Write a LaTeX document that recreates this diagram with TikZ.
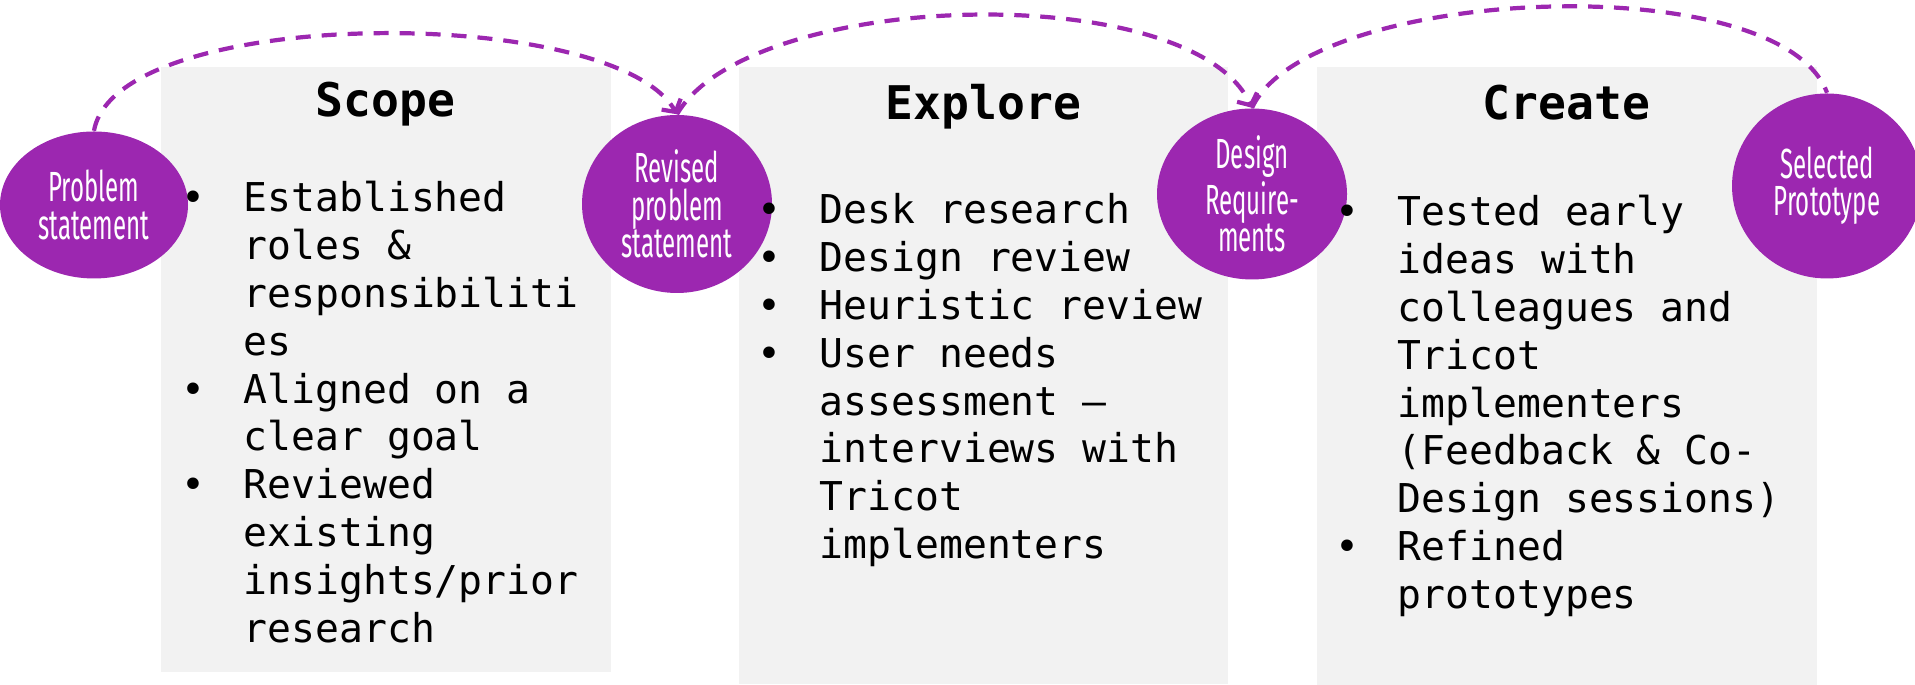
\documentclass[tikz,border=0pt]{standalone}
\usepackage{fontspec}
\setmonofont{DejaVu Sans Mono}
\newfontfamily\circfont[FakeStretch=0.57]{Fira Sans}
\usepackage{xcolor}
\usetikzlibrary{arrows.meta,shapes.geometric}
\definecolor{phasegray}{HTML}{F2F2F2}
\definecolor{flowpurple}{HTML}{9C27B0}
\newcommand{\listfont}{\ttfamily\fontsize{11.3}{13.6}\selectfont}
\newcommand{\titlefont}{\ttfamily\bfseries\fontsize{13.2}{16}\selectfont}
\newcommand{\blt}{\leavevmode\llap{•\hspace{0.38cm}}}
\newcommand{\steplist}[1]{\parbox[t]{5cm}{\raggedright #1}}
\tikzset{
	panel/.style={fill=phasegray, inner sep=0, anchor=north west},
	milestone/.style={ellipse, fill=flowpurple, text=white, inner sep=0,
			align=center, font=\circfont\fontsize{12}{10.6}\selectfont},
	phasetitle/.style={anchor=base, inner sep=0, font=\titlefont},
	itemlist/.style={anchor=base west, inner sep=0, font=\listfont},
	feedarc/.style={flowpurple, line width=1.2pt, dash pattern=on 0.15cm off 0.11cm},
	tip/.style={-{Straight Barb[length=0.09cm, width=0.22cm]}}
}

\begin{document}
\begin{tikzpicture}
            \clip (0,0) rectangle (19.15,6.85);
            % Phase panels
            \node[panel, minimum width=4.50cm, minimum height=6.05cm] (scopeBox) at (1.60,6.19) {};
            \node[panel, minimum width=4.89cm, minimum height=6.17cm] (exploreBox) at (7.38,6.19) {};
            \node[panel, minimum width=5.00cm, minimum height=6.19cm] (createBox) at (13.16,6.19) {};
            % Milestones
            \node[milestone, minimum width=1.88cm, minimum height=1.47cm] (probStmt) at (0.94,4.80) {Problem\\statement};
            \node[milestone, minimum width=1.90cm, minimum height=1.78cm] (revStmt) at (6.77,4.81) {Revised\\problem\\statement};
            \node[milestone, minimum width=1.90cm, minimum height=1.71cm] (designReq) at (12.52,4.91) {Design\\Require-\\ments};
            \node[milestone, minimum width=1.90cm, minimum height=1.85cm] (selProto) at (18.27,4.99) {Selected\\Prototype};
            % Titles
            \node[phasetitle] (scopeTitle) at ([yshift=-0.51cm]scopeBox.north) {Scope};
            \node[phasetitle] (exploreTitle) at ([yshift=-0.54cm]exploreBox.north) {Explore};
            \node[phasetitle] (createTitle) at ([yshift=-0.54cm]createBox.north) {Create};
            % Activities
            \node[itemlist] (scopeList) at (2.43,4.73) {\steplist{\blt Established\\roles \&\\responsibiliti\\es\\
                    \blt Aligned on a\\clear goal\\
                    \blt Reviewed\\existing\\insights/prior\\research}};
            \node[itemlist] (exploreList) at (8.19,4.61) {\steplist{\blt Desk research\\
                    \blt Design review\\
                    \blt Heuristic review\\
                    \blt User needs\\assessment –\\interviews with\\Tricot\\implementers}};
            \node[itemlist] (createList) at (13.97,4.59) {\steplist{\blt Tested early\\ideas with\\colleagues and\\Tricot\\implementers\\(Feedback \& Co-\\Design sessions)\\
                    \blt Refined\\prototypes}};
            % Hand-over arcs
            \draw[feedarc, tip] (probStmt.north) to[out=80, in=120, looseness=0.56] (revStmt.north);
            \draw[feedarc, tip] (revStmt.north) to[out=60, in=115, looseness=0.64] (designReq.north);
            \draw[feedarc] (designReq.north) to[out=65, in=110, looseness=0.6] (selProto.north);
        \end{tikzpicture}
\end{document}
